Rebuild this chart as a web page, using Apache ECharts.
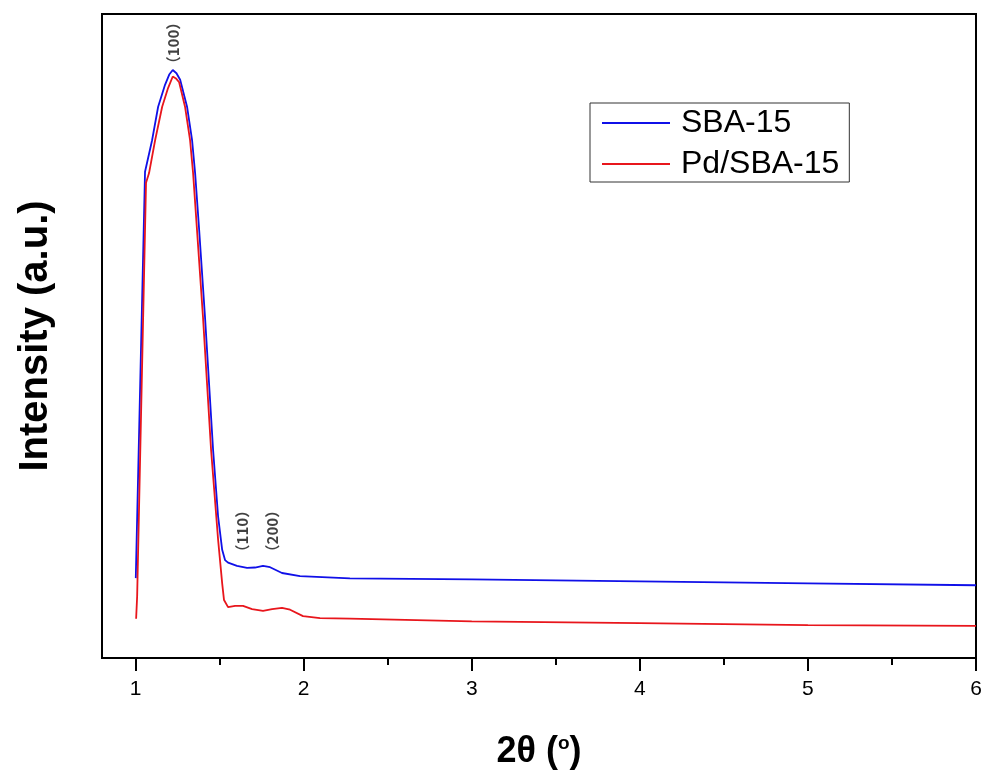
<!DOCTYPE html>
<html>
<head>
<meta charset="utf-8">
<script src="https://cdn.jsdelivr.net/npm/echarts@6/dist/echarts.min.js"></script>
<style>
    html, body { margin: 0; padding: 0; background: #fff; }
    #main { width: 987px; height: 778px; }
</style>
</head>
<body>
<div id="main"></div>
<script>
// 数据：从图上读取
const blueX = [1.001, 1.056, 1.098, 1.134, 1.175, 1.200, 1.221, 1.243, 1.265, 1.306, 1.336, 1.354, 1.378, 1.413, 1.461, 1.491, 1.515, 1.532, 1.550, 1.603, 1.663, 1.710, 1.758, 1.800, 1.871, 1.978, 2.275, 3.0, 4.0, 5.0, 6.0]
const blueY = [12.4, 75.5, 80.4, 85.6, 89.0, 90.6, 91.3, 90.8, 89.8, 85.6, 80.4, 75.3, 66.5, 52.9, 32.3, 21.9, 16.8, 15.2, 14.8, 14.3, 14.0, 14.05, 14.3, 14.1, 13.2, 12.7, 12.35, 12.2, 11.9, 11.6, 11.3]

const redX = [1.003, 1.009, 1.062, 1.080, 1.116, 1.158, 1.193, 1.221, 1.240, 1.259, 1.294, 1.324, 1.342, 1.401, 1.449, 1.491, 1.515, 1.526, 1.550, 1.592, 1.639, 1.693, 1.758, 1.812, 1.871, 1.919, 1.996, 2.097, 2.275, 3.0, 4.0, 5.0, 6.0]
const redY = [6.1, 9.5, 73.8, 75.3, 80.4, 85.6, 88.5, 90.3, 90.0, 89.4, 85.6, 80.4, 75.3, 52.9, 32.3, 18.3, 11.6, 9.0, 7.9, 8.1, 8.1, 7.6, 7.3, 7.6, 7.8, 7.5, 6.5, 6.2, 6.1, 5.7, 5.4, 5.1, 5.0]

const seriesNames = ['SBA-15', 'Pd/SBA-15']
const xTicks = [1, 2, 3, 4, 5, 6]
const xMinorTicks = [1.5, 2.5, 3.5, 4.5, 5.5]

// 峰的标注
const peakLabels = ['（100）', '（110）', '（200）']
const peakX = [1.223, 1.634, 1.812]
const peakY = [95.5, 19.7, 19.7]

const zip = (xs, ys) => xs.map((x, i) => [x, ys[i]])

const font = '"Liberation Sans", Arial, sans-serif'

let element = document.querySelector('#main')
let myChart = echarts.init(element)

let option = {
    animation: false,
    grid: {
        left: 102,
        right: 11,
        top: 14,
        bottom: 120,
        show: true,
        borderColor: '#000',
        borderWidth: 2,
    },
    legend: {
        data: seriesNames,
        orient: 'vertical',
        left: 590,
        top: 103,
        padding: [4, 10, 2, 12],
        borderColor: '#333',
        borderWidth: 1,
        icon: 'rect',
        itemWidth: 68,
        itemHeight: 2,
        itemGap: 9,
        textStyle: {
            fontFamily: font,
            fontSize: 32,
            lineHeight: 32,
            color: '#000',
            padding: [0, 0, 0, 6],
        },
    },
    xAxis: [
        {
            type: 'value',
            min: 0.8,
            max: 6,
            name: '2θ ({sup|o})',
            nameLocation: 'middle',
            nameGap: 76,
            nameTextStyle: {
                fontFamily: font,
                fontSize: 36,
                fontWeight: 'bold',
                color: '#000',
                rich: {
                    sup: {
                        fontFamily: font,
                        fontSize: 19,
                        fontWeight: 'bold',
                        color: '#000',
                        padding: [0, 0, 17, 0],
                    },
                },
            },
            axisLine: { show: true, lineStyle: { color: '#000', width: 2 } },
            axisTick: {
                show: true,
                customValues: xTicks,
                length: 13,
                lineStyle: { color: '#000', width: 2 },
            },
            axisLabel: {
                customValues: xTicks,
                margin: 21,
                fontFamily: font,
                fontSize: 21,
                color: '#000',
            },
            splitLine: { show: false },
        },
        {
            type: 'value',
            min: 0.8,
            max: 6,
            position: 'bottom',
            axisLine: { show: false },
            axisTick: {
                show: true,
                customValues: xMinorTicks,
                length: 7,
                lineStyle: { color: '#000', width: 2 },
            },
            axisLabel: { show: false },
            splitLine: { show: false },
        },
    ],
    yAxis: {
        type: 'value',
        min: 0,
        max: 100,
        name: 'Intensity (a.u.)',
        nameLocation: 'middle',
        nameGap: 46,
        nameTextStyle: {
            fontFamily: font,
            fontSize: 40,
            fontWeight: 'bold',
            color: '#000',
        },
        axisLine: { show: true, lineStyle: { color: '#000', width: 2 } },
        axisTick: { show: false },
        axisLabel: { show: false },
        splitLine: { show: false },
    },
    series: [
        {
            name: seriesNames[0],
            type: 'line',
            data: zip(blueX, blueY),
            symbol: 'none',
            lineStyle: { color: '#1010e8', width: 1.8 },
            itemStyle: { color: '#1010e8' },
        },
        {
            name: seriesNames[1],
            type: 'line',
            data: zip(redX, redY),
            symbol: 'none',
            lineStyle: { color: '#e8161c', width: 1.8 },
            itemStyle: { color: '#e8161c' },
        },
        {
            name: 'peaks',
            type: 'scatter',
            data: peakLabels.map((t, i) => ({ name: t, value: [peakX[i], peakY[i]] })),
            symbolSize: 1,
            itemStyle: { color: 'rgba(0,0,0,0)' },
            silent: true,
            label: {
                show: true,
                position: 'inside',
                rotate: 90,
                formatter: '{b}',
                fontFamily: '"Noto Sans CJK SC", sans-serif',
                fontSize: 15,
                fontWeight: 'bold',
                color: '#111',
            },
        },
    ],
}

myChart.setOption(option)
</script>
</body>
</html>
